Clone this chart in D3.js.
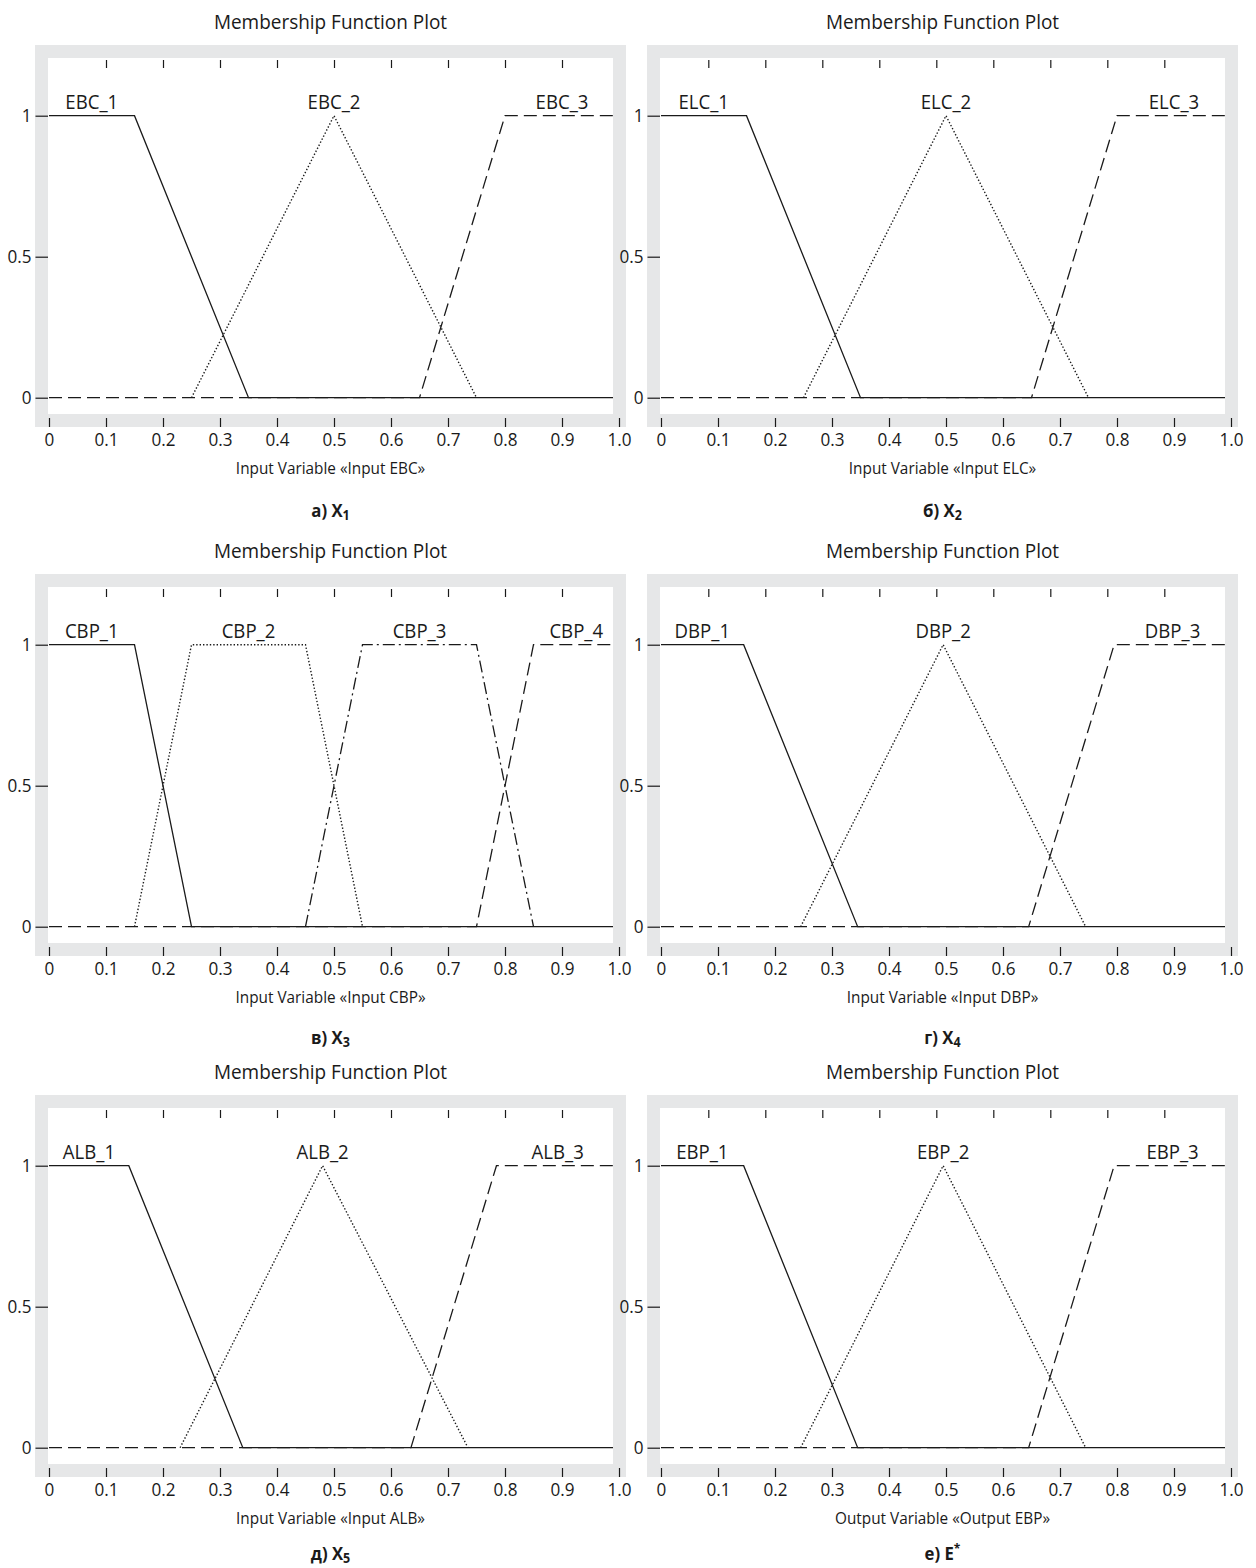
<!DOCTYPE html>
<html>
<head>
<meta charset="utf-8">
<script src="https://cdn.jsdelivr.net/npm/d3@7"></script>
<style>
  html, body { margin: 0; padding: 0; background: #fff; }
  svg { display: block; }
  text { font-family: "Open Sans", "Noto Sans", sans-serif; fill: #1a1a1a; }
</style>
</head>
<body>
<svg id="chart" width="1256" height="1568"></svg>
<script>
// ---------------- DATA ----------------
const xTickValues = [0, 0.1, 0.2, 0.3, 0.4, 0.5, 0.6, 0.7, 0.8, 0.9, 1.0];
const xTickLabels = ["0", "0.1", "0.2", "0.3", "0.4", "0.5", "0.6", "0.7", "0.8", "0.9", "1.0"];
const topTickValues = [0.1, 0.2, 0.3, 0.4, 0.5, 0.6, 0.7, 0.8, 0.9];
const topTickShift = [0, -0.017, 0, -0.017, 0, -0.017];
const yTickValues = [0, 0.5, 1];
const yTickLabels = ["0", "0.5", "1"];

const plotTitles = ["Membership Function Plot", "Membership Function Plot", "Membership Function Plot",
                    "Membership Function Plot", "Membership Function Plot", "Membership Function Plot"];
const axisLabels = ["Input Variable «Input EBC»", "Input Variable «Input ELC»",
                    "Input Variable «Input CBP»", "Input Variable «Input DBP»",
                    "Input Variable «Input ALB»", "Output Variable «Output EBP»"];
const captionLetters = ["а)", "б)", "в)", "г)", "д)", "е)"];
const captionVars = ["X", "X", "X", "X", "X", "E"];
const captionIndex = ["1", "2", "3", "4", "5", "*"];

// membership function names & parameters (tri: [a,b,c], trap: [a,b,c,d])
const ebcNames = ["EBC_1", "EBC_2", "EBC_3"];
const ebcParams = [[-0.15, 0, 0.15, 0.35], [0.25, 0.5, 0.75], [0.65, 0.8, 1, 1.15]];
const elcNames = ["ELC_1", "ELC_2", "ELC_3"];
const elcParams = [[-0.15, 0, 0.15, 0.35], [0.25, 0.5, 0.75], [0.65, 0.8, 1, 1.15]];
const cbpNames = ["CBP_1", "CBP_2", "CBP_3", "CBP_4"];
const cbpParams = [[-0.1, 0, 0.15, 0.25], [0.15, 0.25, 0.45, 0.55], [0.45, 0.55, 0.75, 0.85], [0.75, 0.85, 1, 1.1]];
const dbpNames = ["DBP_1", "DBP_2", "DBP_3"];
const dbpParams = [[-0.15, 0, 0.145, 0.345], [0.245, 0.495, 0.745], [0.645, 0.795, 1, 1.15]];
const albNames = ["ALB_1", "ALB_2", "ALB_3"];
const albParams = [[-0.15, 0, 0.14, 0.34], [0.23, 0.48, 0.735], [0.635, 0.785, 1, 1.15]];
const ebpNames = ["EBP_1", "EBP_2", "EBP_3"];
const ebpParams = [[-0.15, 0, 0.145, 0.345], [0.245, 0.495, 0.745], [0.645, 0.795, 1, 1.15]];

const styles3 = ["solid", "dotted", "dashed"];
const styles4 = ["solid", "dotted", "dashdot", "dashed"];

// ---------------- LAYOUT ----------------
const panels = [
  { names: ebcNames, params: ebcParams, styles: styles3 },
  { names: elcNames, params: elcParams, styles: styles3 },
  { names: cbpNames, params: cbpParams, styles: styles4 },
  { names: dbpNames, params: dbpParams, styles: styles3 },
  { names: albNames, params: albParams, styles: styles3 },
  { names: ebpNames, params: ebpParams, styles: styles3 }
];
const colLeft = [35, 647];
const rowTop = [45, 574, 1095];
const captionOffset = [471.5, 469.5, 464.5];
const frameW = 591, frameH = 382, band = 13;
const GRAY = "#e6e7e8", INK = "#1a1a1a";
const SX = 0.93; // horizontal text compression
const dashes = { solid: null, dotted: "1.4,2", dashed: "13,6", dashdot: "12,4,2,4" };

function mfValue(p, x) {
  if (p.length === 3) {
    const [a, b, c] = p;
    if (x <= a || x >= c) return 0;
    return x <= b ? (x - a) / (b - a) : (c - x) / (c - b);
  }
  const [a, b, c, d] = p;
  if (x <= a || x >= d) return 0;
  if (x < b) return (x - a) / (b - a);
  if (x <= c) return 1;
  return (d - x) / (d - c);
}

function addText(g, x, y, str, size, anchor, weight) {
  const t = g.append("text")
    .attr("transform", `translate(${x},${y}) scale(${SX},1)`)
    .attr("text-anchor", anchor || "middle")
    .style("font-size", size + "px");
  if (weight) t.style("font-weight", weight);
  if (str !== null) t.text(str);
  return t;
}

const svg = d3.select("#chart");

panels.forEach((panel, i) => {
  const left = colLeft[i % 2];
  const row = Math.floor(i / 2);
  const top = rowTop[row];
  const cx = left + frameW / 2;
  const g = svg.append("g");

  const x = d3.scaleLinear().domain([0, 1]).range([left + 14, left + 584]);
  const y = d3.scaleLinear().domain([0, 1]).range([top + 352.7, top + 70.7]);

  // gray frame
  g.append("rect").attr("x", left).attr("y", top).attr("width", frameW).attr("height", frameH).attr("fill", GRAY);
  g.append("rect").attr("x", left + band).attr("y", top + band)
    .attr("width", frameW - 2 * band).attr("height", frameH - 2 * band).attr("fill", "#fff");

  const clipId = "clip" + i;
  g.append("clipPath").attr("id", clipId).append("rect")
    .attr("x", left + band).attr("y", top + band)
    .attr("width", frameW - 2 * band).attr("height", frameH - 2 * band);

  // title
  addText(g, cx, top - 16, plotTitles[i], 20.4);

  // bottom axis
  const bottomAxis = d3.axisBottom(x).tickValues(xTickValues)
    .tickFormat((d, k) => xTickLabels[k]).tickSize(9).tickSizeOuter(0).tickPadding(6);
  const ga = g.append("g").attr("transform", `translate(0,${top + frameH - 9})`).call(bottomAxis);
  ga.select(".domain").remove();
  ga.selectAll(".tick line").attr("stroke", INK).attr("stroke-width", 1.2);
  ga.selectAll(".tick text").style("font-size", "18.4px").attr("fill", INK)
    .style("font-family", '"Open Sans", sans-serif')
    .attr("transform", `scale(${SX},1)`);

  // top ticks
  const sh = topTickShift[i];
  const topAxis = d3.axisBottom(x).tickValues(topTickValues.map(v => v + sh)).tickFormat("").tickSize(8).tickSizeOuter(0);
  const gt = g.append("g").attr("transform", `translate(0,${top + band + 2})`).call(topAxis);
  gt.select(".domain").remove();
  gt.selectAll(".tick line").attr("stroke", INK).attr("stroke-width", 1.2);

  // left axis
  const yTickSize = 12.5, yPad = 4;
  const leftAxis = d3.axisLeft(y).tickValues(yTickValues)
    .tickFormat((d, k) => yTickLabels[k]).tickSize(yTickSize).tickSizeOuter(0).tickPadding(yPad);
  const gl = g.append("g").attr("transform", `translate(${left + band},0)`).call(leftAxis);
  gl.select(".domain").remove();
  gl.selectAll(".tick line").attr("stroke", INK).attr("stroke-width", 1.2);
  gl.selectAll(".tick text").style("font-size", "18.4px").attr("fill", INK)
    .style("font-family", '"Open Sans", sans-serif')
    .attr("x", -(yTickSize + yPad) / SX)
    .attr("transform", `scale(${SX},1)`);

  // membership function lines
  const line = d3.line().x(d => x(d[0])).y(d => y(d[1]));
  const n = panel.params.length;
  const plotG = g.append("g").attr("clip-path", `url(#${clipId})`);
  panel.params.forEach((p, k) => {
    const full = (k === 0 || k === n - 1);
    let xs = full ? [0, 1] : [Math.max(0, p[0]), Math.min(1, p[p.length - 1])];
    p.forEach(v => { if (v > 0 && v < 1) xs.push(v); });
    xs = Array.from(new Set(xs)).sort((a, b) => a - b);
    if (!full) xs = xs.filter(v => v >= p[0] && v <= p[p.length - 1]);
    const pts = xs.map(v => [v, mfValue(p, v)]);
    plotG.append("path").attr("d", line(pts))
      .attr("fill", "none").attr("stroke", INK)
      .attr("stroke-width", panel.styles[k] === "dotted" ? 1.4 : 1.3)
      .attr("stroke-dasharray", dashes[panel.styles[k]]);

    const lx = p.length === 3 ? p[1] : (Math.max(0, p[1]) + Math.min(1, p[2])) / 2;
    addText(g, x(lx), y(1) - 7, panel.names[k], 20);
  });

  // axis label
  addText(g, cx, top + 429, axisLabels[i], 16.5);

  // caption
  const cap = addText(g, cx, top + captionOffset[row], null, 18, "middle", "bold");
  cap.append("tspan").text(captionLetters[i] + " " + captionVars[i]);
  if (captionIndex[i] === "*") {
    cap.append("tspan").attr("dy", -7).style("font-size", "13px").text(captionIndex[i]);
  } else {
    cap.append("tspan").attr("dy", 3.5).style("font-size", "13.5px").text(captionIndex[i]);
  }
});
</script>
</body>
</html>
